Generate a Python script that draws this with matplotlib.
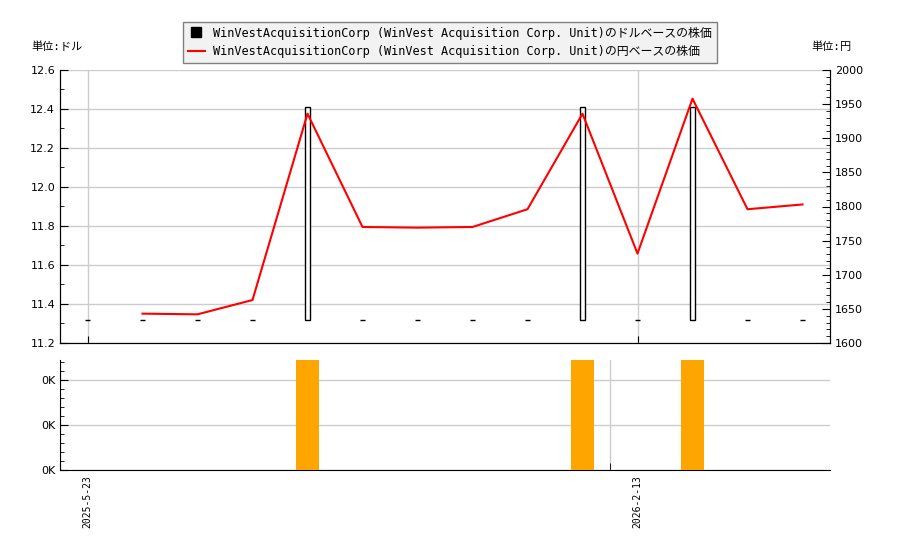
import matplotlib
matplotlib.use('Agg')
import matplotlib.pyplot as plt
from matplotlib.ticker import MultipleLocator, FuncFormatter
from matplotlib.lines import Line2D

plt.rcParams['font.family'] = ['DejaVu Sans', 'Noto Sans CJK JP']
mono_font = ['DejaVu Sans Mono', 'Noto Sans CJK JP']

# data (one entry per trading slot)
idx = list(range(14))
date_ticks = [0, 10]
date_labels = ['2025-5-23', '2026-2-13']
usd_low = [11.32, 11.32, 11.32, 11.32, 11.32, 11.32, 11.32,
           11.32, 11.32, 11.32, 11.32, 11.32, 11.32, 11.32]
usd_high = [11.32, 11.32, 11.32, 11.32, 12.41, 11.32, 11.32,
            11.32, 11.32, 12.41, 11.32, 12.41, 11.32, 11.32]
jpy_idx = [1, 2, 3, 4, 5, 6, 7, 8, 9, 10, 11, 12, 13]
jpy_price = [1643, 1642, 1663, 1936, 1770, 1769, 1770,
             1796, 1936, 1731, 1958, 1796, 1803]
volume = [0, 0, 0, 0, 244, 0, 0, 0, 0, 244, 0, 244, 0, 0]

label_usd = 'WinVestAcquisitionCorp (WinVest Acquisition Corp. Unit)のドルベースの株価'
label_jpy = 'WinVestAcquisitionCorp (WinVest Acquisition Corp. Unit)の円ベースの株価'

fig = plt.figure(figsize=(9, 5.5), dpi=100)
ax = fig.add_axes([60/900, 1-343/550, 770/900, 273/550])
ax2 = ax.twinx()
axv = fig.add_axes([60/900, 1-470/550, 770/900, 110/550])

grid_c = '#cccccc'

# dollar price as thin hollow bars
heights = [h - l for h, l in zip(usd_high, usd_low)]
ax.bar(idx, heights, bottom=usd_low, width=0.085, facecolor='white',
       edgecolor='black', linewidth=1, zorder=3)
ax.set_xlim(-0.5, 13.5)
ax.set_ylim(11.2, 12.6)
ax.yaxis.set_major_locator(MultipleLocator(0.2))
ax.yaxis.set_minor_locator(MultipleLocator(0.1))
ax.set_xticks(date_ticks)
ax.set_xticklabels([])
ax.grid(True, color=grid_c, linewidth=1)
ax.set_axisbelow(True)
ax.tick_params(axis='both', which='both', direction='in', labelsize=8)
ax.tick_params(axis='y', which='major', length=6)
ax.tick_params(axis='y', which='minor', length=3)
ax.tick_params(axis='x', length=5)
ax.spines['top'].set_visible(False)

# yen price line
ax2.plot(jpy_idx, jpy_price, color='#ff0000', linewidth=1.5, zorder=4)
ax2.set_ylim(1600, 2000)
ax2.yaxis.set_major_locator(MultipleLocator(50))
ax2.yaxis.set_minor_locator(MultipleLocator(10))
ax2.tick_params(axis='y', which='both', direction='in', labelsize=8)
ax2.tick_params(axis='y', which='major', length=6)
ax2.tick_params(axis='y', which='minor', length=3)
ax2.spines['top'].set_visible(False)

# volume panel
axv.bar(idx, volume, width=0.42, color='#ffa500', zorder=3)
axv.set_xlim(-0.5, 13.5)
axv.set_ylim(0, 244)
axv.yaxis.set_major_locator(MultipleLocator(100))
axv.yaxis.set_minor_locator(MultipleLocator(20))
axv.yaxis.set_major_formatter(FuncFormatter(lambda v, p: '%dK' % (v // 1000)))
axv.set_xticks(date_ticks)
axv.set_xticklabels(date_labels, rotation=90, family=mono_font, fontsize=7)
axv.set_xticks([-0.5, 9.5], minor=True)
axv.tick_params(axis='x', which='major', length=0, pad=4)
axv.tick_params(axis='x', which='minor', direction='in', length=5)
axv.tick_params(axis='y', which='both', direction='in', labelsize=8)
axv.tick_params(axis='y', which='major', length=6)
axv.tick_params(axis='y', which='minor', length=3)
axv.grid(True, axis='y', color=grid_c, linewidth=1)
axv.grid(True, axis='x', which='minor', color=grid_c, linewidth=1)
axv.set_axisbelow(True)
axv.spines['top'].set_visible(False)
axv.spines['right'].set_visible(False)

fig.text(31/900, 1-47/550, '単位:ドル', family=mono_font, fontsize=8, va='center')
fig.text(852/900, 1-47/550, '単位:円', family=mono_font, fontsize=8, va='center', ha='right')

handles = [Line2D([0], [0], marker='s', color='black', linestyle='none', markersize=7),
           Line2D([0], [0], color='#ff0000', linewidth=1.5)]
leg = fig.legend(handles, [label_usd, label_jpy], loc='upper center',
                 bbox_to_anchor=(450/900, 1-17/550), prop={'family': mono_font, 'size': 8.6},
                 fancybox=False, edgecolor='#808080', facecolor='#f2f2f2',
                 framealpha=1, handlelength=1.4, handletextpad=0.7,
                 borderpad=0.4, labelspacing=0.45, borderaxespad=0.4)
leg.get_frame().set_linewidth(1)

fig.savefig('out.png', dpi=100)
